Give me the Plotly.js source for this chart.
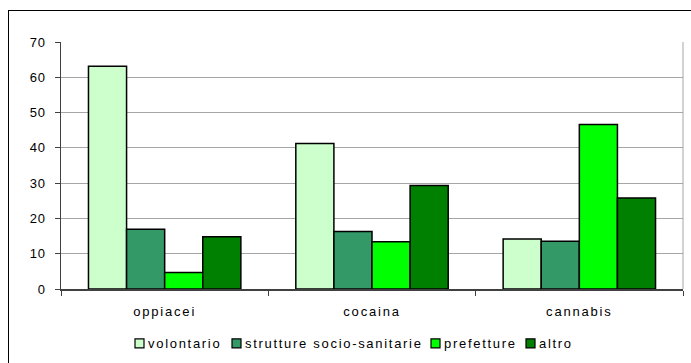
<!DOCTYPE html>
<html>
<head>
<meta charset="utf-8">
<script src="https://cdn.plot.ly/plotly-3.0.1.min.js"></script>
<style>
html,body{margin:0;padding:0;background:#fff;}
#wrap{position:relative;width:691px;height:363px;}
#chart{width:691px;height:363px;}
#frame{position:absolute;left:8px;top:10px;width:683px;height:353px;border-left:1px solid #000;border-top:1px solid #000;pointer-events:none;box-sizing:border-box;}
.xtick text{letter-spacing:1.8px;}
.ytick text{letter-spacing:0.8px;}
.annotation-text{letter-spacing:1.7px;}
</style>
</head>
<body>
<div id="wrap"><div id="chart"></div><div id="frame"></div></div>
<script>
const categories = ["oppiacei", "cocaina", "cannabis"];
const seriesNames = ["volontario", "strutture socio-sanitarie", "prefetture", "altro"];
const volontario = [63.1, 41.2, 14.2];
const strutture = [16.9, 16.3, 13.5];
const prefetture = [4.7, 13.4, 46.6];
const altro = [14.8, 29.3, 25.8];
const yTicks = [0, 10, 20, 30, 40, 50, 60, 70];

const colors = ["#CCFFCC", "#339966", "#00FF00", "#008000"];
const values = [volontario, strutture, prefetture, altro];

// plot area in pixels
const M = {l: 61, r: 8, t: 41.5, b: 74};
const W = 691, H = 363;
const pw = W - M.l - M.r, ph = H - M.t - M.b;
const px2x = p => (p - M.l) / pw;
const py2y = p => (H - M.b - p) / ph;

const traces = values.map((v, i) => ({
  type: "bar",
  name: seriesNames[i],
  x: categories,
  y: v,
  marker: {color: colors[i], line: {color: "#000", width: 1.5}},
  hoverinfo: "x+y+name"
}));

// custom legend (layout positions, pixels)
const legendSquareLeft = [135, 232, 431, 526];
const legendSq = 9, legendGap = 3, legendCy = 343.5;
const shapes = [
  {type: "line", xref: "paper", yref: "paper", x0: 1, x1: 1, y0: 0, y1: 1, line: {color: "#A6A6A6", width: 1}}
];
const annotations = [];
seriesNames.forEach((n, i) => {
  const x0 = legendSquareLeft[i];
  shapes.push({
    type: "rect", xref: "paper", yref: "paper",
    x0: px2x(x0), x1: px2x(x0 + legendSq),
    y0: py2y(legendCy + legendSq / 2), y1: py2y(legendCy - legendSq / 2),
    fillcolor: colors[i], line: {color: "#000", width: 1.2}
  });
  annotations.push({
    xref: "paper", yref: "paper",
    x: px2x(x0 + legendSq + legendGap - 1), y: py2y(legendCy),
    xanchor: "left", yanchor: "middle",
    text: n, showarrow: false, font: {size: 13, color: "#000"}
  });
});

const layout = {
  width: W, height: H,
  margin: {l: M.l, r: M.r, t: M.t, b: M.b, autoexpand: false},
  paper_bgcolor: "#fff", plot_bgcolor: "#fff",
  font: {family: "Liberation Sans, Arial, sans-serif", size: 13, color: "#000"},
  barmode: "group", bargap: 0.265, bargroupgap: 0,
  xaxis: {
    type: "category",
    showline: true, linecolor: "#404040", linewidth: 1.5,
    ticks: "outside", tickson: "boundaries", ticklen: 5, tickcolor: "#404040", tickwidth: 1,
    ticklabelstandoff: 10,
    showgrid: false, zeroline: false,
    tickfont: {size: 13}
  },
  yaxis: {
    range: [0, 70],
    tickvals: yTicks,
    showline: true, linecolor: "#404040", linewidth: 1.5,
    ticks: "outside", ticklen: 5, tickcolor: "#404040",
    ticklabelstandoff: 6,
    showgrid: true, gridcolor: "#A6A6A6", gridwidth: 1,
    zeroline: false,
    tickfont: {size: 13}
  },
  shapes: shapes,
  annotations: annotations,
  showlegend: false
};

Plotly.newPlot("chart", traces, layout, {displayModeBar: false, staticPlot: true});
</script>
</body>
</html>
